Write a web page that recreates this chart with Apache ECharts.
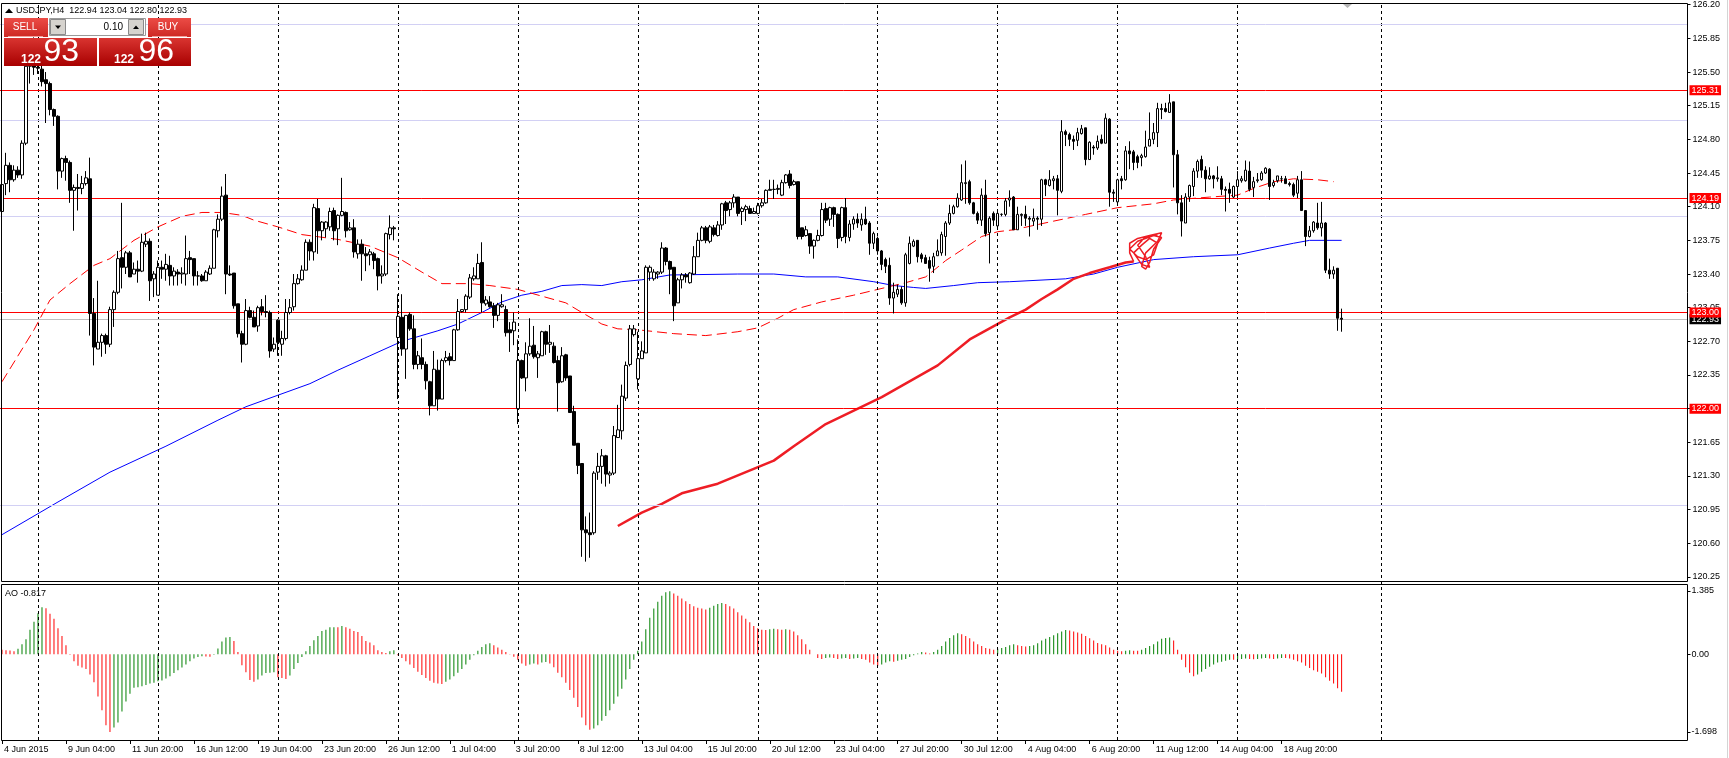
<!DOCTYPE html>
<html>
<head>
<meta charset="utf-8">
<title>USDJPY,H4</title>
<script src="https://cdn.jsdelivr.net/npm/echarts@6.0.0/dist/echarts.min.js"></script>
<style>
html, body { margin: 0; padding: 0; background: #fff; }
#chart { width: 1729px; height: 758px; }
</style>
</head>
<body>
<div id="chart"></div>
<script>
// USDJPY H4 candles, bar 0 = 4 Jun 2015 12:00 ... bar 335 = 21 Aug 2015 08:00
var symbol = 'USDJPY,H4';

// [open, high, low, close]
var ohlc = [
  [124.05,124.35,123.96,124.33],[124.34,124.66,124.22,124.53],[124.53,124.56,124.25,124.38],[124.38,124.53,124.36,124.48],[124.48,124.52,124.40,124.43],
  [124.43,124.79,124.39,124.76],[124.76,125.62,124.74,125.56],[125.56,125.80,125.38,125.60],[125.60,125.86,125.47,125.55],[125.55,125.70,125.48,125.54],
  [125.53,125.60,125.35,125.40],[125.42,125.50,124.97,125.38],[125.38,125.40,125.05,125.11],[125.11,125.12,124.94,125.04],[125.04,125.05,124.28,124.47],
  [124.47,124.61,124.40,124.60],[124.60,124.63,124.37,124.56],[124.56,124.58,124.14,124.27],[124.27,124.33,123.85,124.30],[124.30,124.44,124.06,124.29],
  [124.29,124.42,124.23,124.34],[124.34,124.47,124.32,124.40],[124.39,124.61,122.76,122.99],[122.99,123.15,122.45,122.64],[122.62,123.33,122.62,122.69],
  [122.69,122.78,122.54,122.76],[122.76,122.78,122.57,122.67],[122.67,123.06,122.64,123.03],[123.03,123.23,122.85,123.21],[123.21,123.64,123.19,123.56],
  [123.57,124.14,123.25,123.47],[123.47,123.64,123.40,123.62],[123.62,123.64,123.37,123.37],[123.40,123.52,123.40,123.45],[123.45,123.54,123.31,123.43],
  [123.43,123.82,123.42,123.73],[123.71,123.83,123.68,123.74],[123.74,123.77,123.12,123.33],[123.35,123.43,123.16,123.40],[123.18,123.54,123.18,123.47],
  [123.47,123.54,123.35,123.45],[123.45,123.61,123.33,123.50],[123.49,123.59,123.28,123.38],[123.38,123.47,123.28,123.43],[123.42,123.45,123.28,123.40],
  [123.40,123.47,123.30,123.41],[123.40,123.80,123.28,123.56],[123.57,123.64,123.40,123.55],[123.56,123.56,123.28,123.38],[123.38,123.43,123.28,123.38],
  [123.38,123.40,123.32,123.33],[123.33,123.44,123.33,123.42],[123.40,123.49,123.39,123.46],[123.46,123.87,123.46,123.86],[123.85,124.02,123.78,123.97],
  [123.97,124.31,123.95,124.21],[124.22,124.44,123.19,123.40],[123.40,123.49,123.38,123.39],[123.41,123.41,123.04,123.07],[123.09,123.09,122.74,122.78],
  [122.78,122.81,122.48,122.67],[122.67,123.14,122.66,123.02],[123.02,123.06,122.94,122.95],[122.95,123.02,122.85,122.85],[122.86,123.07,122.80,123.05],
  [123.06,123.14,122.97,123.01],[123.01,123.18,122.95,123.00],[123.00,123.02,122.53,122.60],[122.62,122.74,122.59,122.67],[122.92,122.93,122.55,122.69],
  [122.67,122.81,122.55,122.73],[122.73,123.14,122.71,123.00],[123.00,123.14,122.98,123.05],[123.06,123.40,123.02,123.30],[123.30,123.40,123.29,123.35],
  [123.34,123.49,123.33,123.44],[123.44,123.76,123.44,123.73],[123.73,123.76,123.54,123.64],[123.63,124.13,123.54,124.09],[124.08,124.18,123.61,123.85],
  [123.85,123.95,123.75,123.94],[123.87,123.95,123.78,123.94],[123.89,124.09,123.85,124.05],[124.06,124.09,123.75,123.85],[123.87,124.02,123.70,124.01],
  [124.01,124.40,124.00,124.05],[124.04,124.05,123.78,123.85],[123.86,123.94,123.85,123.88],[123.88,123.97,123.57,123.63],[123.61,123.76,123.56,123.71],
  [123.71,123.76,123.33,123.61],[123.61,123.68,123.43,123.59],[123.60,123.66,123.49,123.63],[123.61,123.63,123.45,123.54],[123.56,123.57,123.23,123.38],
  [123.38,123.49,123.30,123.40],[123.40,123.83,123.38,123.82],[123.81,124.01,123.76,123.88],[123.88,123.90,123.75,123.87],[122.74,123.19,122.10,122.96],
  [122.95,123.19,122.55,122.62],[122.62,122.97,122.31,122.97],[122.98,123.00,122.81,122.83],[122.83,122.97,122.41,122.46],[122.46,122.60,122.41,122.55],
  [122.53,122.73,122.41,122.46],[122.46,122.49,122.20,122.29],[122.28,122.29,121.93,122.03],[122.03,122.60,122.03,122.41],[122.40,122.51,121.98,122.10],
  [122.10,122.52,122.10,122.50],[122.50,122.60,122.48,122.53],[122.54,122.58,122.45,122.50],[122.50,122.83,122.50,122.82],[122.82,123.14,122.81,123.01],
  [123.01,123.03,123.00,123.03],[123.03,123.19,123.00,123.17],[123.16,123.40,123.14,123.36],[123.35,123.47,123.33,123.38],[123.35,123.61,123.35,123.51],
  [123.52,123.73,123.00,123.10],[123.09,123.17,123.07,123.13],[123.11,123.17,123.05,123.06],[123.07,123.10,122.84,122.97],[122.97,123.10,122.91,123.08],
  [123.06,123.19,123.05,123.08],[123.03,123.07,122.75,122.79],[122.82,122.90,122.59,122.79],[122.81,123.00,122.66,122.90],[122.00,122.72,121.84,122.50],
  [122.50,122.51,122.31,122.32],[122.32,122.69,122.18,122.57],[122.57,122.94,122.55,122.65],[122.66,122.86,122.52,122.54],[122.53,122.60,122.32,122.57],
  [122.55,122.81,122.55,122.80],[122.80,122.81,122.56,122.67],[122.67,122.87,122.58,122.69],[122.65,122.69,122.47,122.48],[122.50,122.55,121.97,122.27],
  [122.28,122.64,122.27,122.55],[122.56,122.57,122.29,122.32],[122.34,122.34,121.96,121.96],[121.97,122.03,121.62,121.62],[121.64,121.64,121.32,121.41],
  [121.43,121.43,120.46,120.74],[120.74,120.88,120.41,120.71],[120.71,120.92,120.45,120.69],[120.71,121.35,120.69,121.33],[121.34,121.54,121.26,121.40],
  [121.40,121.58,121.22,121.51],[121.51,121.52,121.19,121.32],[121.31,121.35,121.22,121.33],[121.33,121.82,121.31,121.72],[121.70,122.04,121.70,121.78],
  [121.77,122.25,121.68,122.13],[122.11,122.49,122.08,122.45],[122.46,122.87,122.44,122.83],[122.77,122.87,122.75,122.83],[122.31,122.80,122.20,122.52],
  [122.52,122.70,122.52,122.60],[122.58,123.49,122.58,123.47],[123.42,123.49,123.33,123.47],[123.35,123.45,123.33,123.42],[123.40,123.43,123.35,123.42],
  [123.42,123.73,123.40,123.67],[123.67,123.68,123.49,123.53],[123.53,123.54,123.19,123.45],[123.47,123.47,122.91,123.07],[123.10,123.36,123.10,123.34],
  [123.34,123.41,123.25,123.39],[123.39,123.41,123.31,123.37],[123.31,123.42,123.30,123.41],[123.40,123.69,123.39,123.58],[123.58,123.83,123.58,123.75],
  [123.75,123.90,123.74,123.88],[123.88,123.90,123.72,123.75],[123.74,123.91,123.72,123.89],[123.88,123.91,123.79,123.81],[123.80,123.95,123.79,123.91],
  [123.91,124.14,123.86,124.13],[124.14,124.16,123.92,124.06],[124.07,124.16,124.00,124.14],[124.14,124.23,124.09,124.20],[124.20,124.20,124.00,124.03],
  [124.05,124.10,123.91,124.08],[124.07,124.12,123.95,124.10],[124.08,124.11,124.03,124.03],[124.03,124.09,124.03,124.05],[124.03,124.14,124.02,124.11],
  [124.11,124.18,124.09,124.14],[124.14,124.28,124.13,124.27],[124.27,124.38,124.27,124.28],[124.28,124.38,124.18,124.28],[124.28,124.33,124.23,124.29],
  [124.22,124.38,124.21,124.35],[124.35,124.44,124.34,124.43],[124.44,124.48,124.29,124.32],[124.33,124.38,124.32,124.36],[124.36,124.36,123.76,123.79],
  [123.88,123.88,123.76,123.79],[123.80,123.90,123.79,123.86],[123.82,123.82,123.61,123.69],[123.69,123.76,123.56,123.75],[123.75,123.86,123.74,123.80],
  [123.80,124.14,123.79,124.07],[124.08,124.14,123.93,123.96],[123.97,124.10,123.90,124.09],[124.09,124.10,123.89,124.02],[124.02,124.03,123.67,123.77],
  [123.78,124.10,123.74,124.09],[124.09,124.19,123.72,123.79],[123.78,123.96,123.74,123.92],[123.92,124.00,123.86,123.97],[123.97,124.03,123.88,123.93],
  [123.91,124.03,123.85,123.97],[123.97,124.10,123.91,123.92],[123.93,123.95,123.60,123.72],[123.72,123.84,123.66,123.82],[123.77,123.79,123.60,123.64],
  [123.64,123.65,123.44,123.50],[123.55,123.57,123.41,123.48],[123.49,123.57,123.08,123.15],[123.15,123.31,122.99,123.21],[123.19,123.29,123.16,123.24],
  [123.24,123.27,123.08,123.10],[123.10,123.62,123.06,123.60],[123.51,123.79,123.50,123.72],[123.69,123.76,123.68,123.74],[123.75,123.75,123.52,123.58],
  [123.60,123.62,123.52,123.56],[123.57,123.60,123.51,123.51],[123.54,123.58,123.32,123.46],[123.48,123.62,123.41,123.58],[123.59,123.76,123.59,123.64],
  [123.62,123.84,123.59,123.81],[123.79,123.95,123.59,123.93],[123.93,124.12,123.91,124.03],[124.03,124.12,124.02,124.10],[124.10,124.24,124.09,124.19],
  [124.17,124.54,124.16,124.35],[124.34,124.58,124.13,124.35],[124.36,124.38,124.12,124.14],[124.14,124.15,124.02,124.03],[124.03,124.05,123.92,123.96],
  [123.96,124.29,123.90,124.22],[124.22,124.38,123.79,123.82],[123.83,124.00,123.51,123.98],[124.03,124.05,123.90,123.96],[123.90,124.05,123.88,124.03],
  [124.02,124.03,124.00,124.02],[124.02,124.19,124.00,124.16],[124.17,124.27,124.10,124.19],[124.20,124.21,123.86,123.86],[123.86,124.10,123.86,124.02],
  [124.02,124.03,123.90,124.01],[124.02,124.11,123.90,123.98],[123.98,124.00,123.79,123.97],[123.95,124.08,123.90,123.98],[123.98,124.00,123.86,123.97],
  [123.97,124.39,123.90,124.38],[124.38,124.39,124.21,124.33],[124.32,124.48,124.31,124.38],[124.37,124.42,124.28,124.39],[124.39,124.43,124.01,124.27],
  [124.26,125.00,124.24,124.88],[124.88,124.90,124.73,124.85],[124.85,124.87,124.73,124.80],[124.80,124.84,124.69,124.78],[124.79,124.92,124.73,124.87],
  [124.86,124.95,124.85,124.91],[124.92,124.92,124.53,124.59],[124.59,124.78,124.59,124.77],[124.72,124.74,124.64,124.71],[124.71,124.84,124.69,124.78],
  [124.80,124.85,124.75,124.76],[124.76,125.07,124.76,125.02],[125.01,125.02,124.10,124.25],[124.25,124.28,124.15,124.24],[124.15,124.39,124.13,124.38],
  [124.39,124.42,124.28,124.37],[124.38,124.73,124.37,124.68],[124.68,124.78,124.49,124.65],[124.67,124.69,124.48,124.56],[124.62,124.64,124.50,124.56],
  [124.61,124.65,124.52,124.63],[124.62,124.89,124.61,124.72],[124.73,125.08,124.73,124.80],[124.80,124.97,124.75,124.87],[124.87,125.18,124.72,125.12],
  [125.12,125.17,125.01,125.11],[125.12,125.18,125.08,125.09],[125.08,125.27,125.08,125.18],[125.19,125.19,124.30,124.64],[124.64,124.69,124.02,124.14],
  [124.14,124.22,123.79,123.95],[123.93,124.24,123.93,124.20],[124.20,124.33,124.15,124.32],[124.31,124.50,124.21,124.47],[124.47,124.59,124.40,124.57],
  [124.59,124.63,124.40,124.48],[124.48,124.52,124.25,124.39],[124.39,124.51,124.38,124.42],[124.42,124.43,124.29,124.39],[124.39,124.52,124.36,124.40],
  [124.39,124.42,124.22,124.28],[124.28,124.31,124.05,124.27],[124.28,124.35,124.14,124.24],[124.20,124.32,124.19,124.31],[124.31,124.47,124.19,124.38],
  [124.37,124.42,124.35,124.39],[124.37,124.58,124.36,124.48],[124.47,124.57,124.26,124.28],[124.30,124.41,124.20,124.36],[124.37,124.45,124.35,124.38],
  [124.38,124.47,124.37,124.45],[124.45,124.51,124.44,124.50],[124.49,124.50,124.17,124.31],[124.32,124.38,124.30,124.35],[124.37,124.42,124.35,124.42],
  [124.39,124.42,124.35,124.39],[124.39,124.42,124.34,124.34],[124.34,124.36,124.31,124.33],[124.33,124.35,124.20,124.22],[124.24,124.42,124.19,124.38],
  [124.38,124.47,124.06,124.06],[124.06,124.06,123.69,123.79],[123.79,123.90,123.78,123.85],[123.85,123.95,123.83,123.94],[123.93,124.14,123.86,123.88],
  [123.88,124.15,123.79,123.93],[123.93,123.94,123.41,123.44],[123.44,123.56,123.35,123.40],[123.40,123.48,123.35,123.44],[123.46,123.46,122.81,122.94],
  [122.94,123.04,122.80,122.93]
];

// Awesome Oscillator, one value per candle
var ao = [
  0.10,0.09,0.085,0.07,0.12,0.22,0.33,0.54,0.71,0.90,1.03,1.01,0.89,0.78,0.57,0.40,0.20,-0.01,-0.15,-0.25,
  -0.29,-0.32,-0.44,-0.61,-0.92,-1.22,-1.55,-1.71,-1.60,-1.49,-1.25,-1.03,-0.86,-0.73,-0.72,-0.70,-0.67,-0.64,-0.62,-0.59,
  -0.57,-0.53,-0.48,-0.41,-0.35,-0.29,-0.22,-0.15,-0.09,-0.06,-0.04,-0.045,-0.05,-0.01,0.13,0.28,0.37,0.38,0.29,0.05,
  -0.24,-0.39,-0.56,-0.60,-0.55,-0.46,-0.41,-0.40,-0.39,-0.50,-0.52,-0.54,-0.46,-0.32,-0.19,-0.06,0.07,0.18,0.31,0.40,
  0.51,0.54,0.59,0.595,0.59,0.62,0.59,0.56,0.51,0.49,0.40,0.29,0.26,0.20,0.09,0.05,0.03,0.07,0.09,-0.02,
  -0.08,-0.15,-0.22,-0.30,-0.38,-0.45,-0.52,-0.58,-0.62,-0.64,-0.65,-0.60,-0.55,-0.48,-0.40,-0.32,-0.22,-0.12,-0.02,0.08,
  0.16,0.22,0.24,0.20,0.15,0.10,0.05,0.01,-0.05,-0.12,-0.20,-0.25,-0.22,-0.20,-0.22,-0.18,-0.17,-0.20,-0.28,-0.40,
  -0.50,-0.62,-0.78,-0.95,-1.15,-1.38,-1.55,-1.65,-1.62,-1.55,-1.45,-1.35,-1.22,-1.08,-0.92,-0.75,-0.55,-0.32,-0.12,0.08,
  0.28,0.55,0.80,1.00,1.15,1.28,1.36,1.38,1.33,1.28,1.22,1.16,1.10,1.05,1.02,1.00,0.98,1.02,1.06,1.10,
  1.12,1.10,1.05,1.00,0.92,0.85,0.78,0.70,0.62,0.57,0.54,0.53,0.55,0.56,0.55,0.54,0.55,0.54,0.50,0.42,
  0.33,0.22,0.10,0.00,-0.08,-0.10,-0.08,-0.07,-0.08,-0.10,-0.09,-0.08,-0.10,-0.09,-0.08,-0.10,-0.12,-0.18,-0.22,-0.25,
  -0.22,-0.18,-0.15,-0.16,-0.14,-0.12,-0.10,-0.06,-0.02,0.02,0.05,0.04,0.02,0.05,0.10,0.18,0.28,0.36,0.42,0.46,
  0.44,0.40,0.35,0.28,0.22,0.18,0.14,0.12,0.10,0.12,0.14,0.16,0.20,0.22,0.20,0.18,0.17,0.18,0.20,0.24,
  0.30,0.34,0.38,0.42,0.46,0.50,0.53,0.52,0.50,0.48,0.45,0.40,0.35,0.30,0.25,0.22,0.20,0.15,0.10,0.08,
  0.07,0.08,0.09,0.08,0.08,0.10,0.14,0.18,0.22,0.28,0.34,0.36,0.37,0.30,0.10,-0.12,-0.28,-0.40,-0.48,-0.44,
  -0.38,-0.32,-0.27,-0.22,-0.18,-0.16,-0.14,-0.12,-0.12,-0.11,-0.10,-0.09,-0.10,-0.11,-0.10,-0.09,-0.08,-0.09,-0.10,-0.09,
  -0.08,-0.08,-0.09,-0.12,-0.15,-0.18,-0.25,-0.30,-0.35,-0.38,-0.42,-0.50,-0.58,-0.64,-0.74,-0.817
];

// moving averages: [bar, price]
var maBlue = [[0,120.69],[14,121.03],[27,121.34],[41,121.61],[54,121.88],[61,122.02],[69,122.14],[77,122.26],[84,122.40],[92,122.55],
  [100,122.70],[109,122.81],[114,122.88],[117,122.94],[120,123.00],[125,123.11],[130,123.18],[135,123.22],[140,123.28],[145,123.29],
  [150,123.28],[155,123.32],[160,123.34],[167,123.39],[184,123.40],[193,123.40],[201,123.37],[209,123.37],[218,123.32],[223,123.28],
  [228,123.26],[231,123.25],[238,123.28],[244,123.31],[252,123.32],[266,123.35],[273,123.40],[279,123.47],[288,123.55],[298,123.58],
  [309,123.60],[317,123.67],[323,123.72],[327,123.75],[335,123.75]];
var maRed = [[0,122.28],[8,122.82],[12,123.13],[17,123.30],[23,123.49],[27,123.56],[33,123.75],[39,123.89],[45,124.00],[50,124.04],
  [55,124.04],[60,124.01],[63,123.96],[69,123.89],[75,123.81],[84,123.76],[92,123.69],[99,123.57],[105,123.42],[110,123.30],
  [117,123.30],[122,123.28],[129,123.24],[135,123.17],[141,123.10],[145,123.00],[150,122.88],[154,122.83],[159,122.82],[168,122.78],
  [176,122.76],[184,122.80],[189,122.84],[194,122.94],[198,123.03],[205,123.11],[213,123.18],[219,123.24],[226,123.31],[231,123.37],
  [236,123.54],[240,123.65],[245,123.79],[249,123.84],[253,123.86],[263,123.95],[271,124.02],[279,124.09],[288,124.13],[293,124.17],
  [302,124.20],[309,124.22],[313,124.29],[318,124.36],[323,124.39],[329,124.38],[333,124.36]];
// hand drawn line and the scribble at its end
var drawnLine = [[154,120.78],[160,120.92],[165,121.01],[170,121.12],[179,121.22],[193,121.46],[198,121.61],[206,121.84],[220,122.12],
  [234,122.45],[242,122.72],[252,122.95],[256,123.03],[260,123.14],[264,123.24],[268,123.35],[272,123.41],[277,123.47],[281,123.52],[283,123.53]];
var scribble = [[283,123.53],[282,123.62],[282,123.72],[284,123.77],[287,123.80],[290,123.83],[289,123.74],[286,123.62],[285,123.48],
  [286,123.45],[287,123.52],[288,123.66],[290,123.78],[288,123.80],[284,123.74],[282,123.66],[284,123.58],[286,123.55],[288,123.60],
  [289,123.72],[287,123.77],[285,123.70],[283,123.62],[285,123.50],[287,123.47],[286,123.58],[284,123.70],[286,123.79],[289,123.81]];

var redLevels = [125.31, 124.19, 123.00, 122.00];
var lilacLevels = [126.00, 125.00, 124.00, 121.00];
var bid = 122.93, ask = 122.96, lot = '0.10';

var weekStarts = [9, 39, 69, 99, 129, 159, 189, 219, 249, 279, 309, 345];
var timeLabels = ['4 Jun 2015','9 Jun 04:00','11 Jun 20:00','16 Jun 12:00','19 Jun 04:00','23 Jun 20:00','26 Jun 12:00',
  '1 Jul 04:00','3 Jul 20:00','8 Jul 12:00','13 Jul 04:00','15 Jul 20:00','20 Jul 12:00','23 Jul 04:00','27 Jul 20:00',
  '30 Jul 12:00','4 Aug 04:00','6 Aug 20:00','11 Aug 12:00','14 Aug 04:00','18 Aug 20:00'];
var labelEvery = 16;

// price scale ticks
var priceMin = 120.25, priceStep = 0.35, priceTicks = 17;
var aoMin = -1.698, aoMax = 1.385;

var font = '"Liberation Sans", Arial, sans-serif';
var N = 422;   // bar slots across the window incl. the empty shift zone
var slots = [];
for (var i = 0; i < N; i++) slots.push(i);

function redGrad(top, bottom) {
  return new echarts.graphic.LinearGradient(0, 0, 0, 1, [{offset: 0, color: top}, {offset: 1, color: bottom}]);
}

var last = ohlc[ohlc.length - 1];
var header = symbol + '  ' + last.map(function (v) { return v.toFixed(2); }).join(' ');
var bidTxt = bid.toFixed(2).split('.');
var askTxt = ask.toFixed(2).split('.');

var graphics = [
  // window frames
  {type: 'rect', shape: {x: 1.5, y: 3.5, width: 1686, height: 578}, style: {fill: null, stroke: '#000', lineWidth: 1}},
  {type: 'rect', shape: {x: 1.5, y: 584.5, width: 1686, height: 156}, style: {fill: null, stroke: '#000', lineWidth: 1}},
  {type: 'line', shape: {x1: 1727.5, y1: 0, x2: 1727.5, y2: 758}, style: {stroke: '#d4d4d4', lineWidth: 1}},
  // chart shift marker
  {type: 'polygon', shape: {points: [[1343, 4], [1352, 4], [1347.5, 8]]}, style: {fill: '#b4b4b4'}},
  // header + indicator name
  {type: 'polygon', shape: {points: [[5, 13], [9, 8.5], [13, 13]]}, style: {fill: '#000'}},
  {type: 'text', x: 16, y: 11, style: {text: header, font: '9px ' + font, fill: '#000', verticalAlign: 'middle'}},
  {type: 'text', x: 5, y: 594, style: {text: 'AO ' + ao[ao.length - 1].toFixed(3), font: '9px ' + font, fill: '#000', verticalAlign: 'middle'}},
  // one click trading panel
  {type: 'rect', shape: {x: 4, y: 18, width: 44, height: 19}, style: {fill: redGrad('#ec4c46', '#cd2823')}},
  {type: 'text', x: 25, y: 27.5, style: {text: 'SELL', font: '10px ' + font, fill: '#fff', align: 'center', verticalAlign: 'middle'}},
  {type: 'line', shape: {x1: 8, y1: 36.5, x2: 43, y2: 36.5}, style: {stroke: '#f2a09c', lineWidth: 1}},
  {type: 'rect', shape: {x: 148, y: 18, width: 43, height: 19}, style: {fill: redGrad('#ec4c46', '#cd2823')}},
  {type: 'text', x: 168, y: 27.5, style: {text: 'BUY', font: '10px ' + font, fill: '#fff', align: 'center', verticalAlign: 'middle'}},
  {type: 'line', shape: {x1: 152, y1: 36.5, x2: 187, y2: 36.5}, style: {stroke: '#f2a09c', lineWidth: 1}},
  {type: 'rect', shape: {x: 49.5, y: 18.5, width: 96, height: 17}, style: {fill: '#fff', stroke: '#9a9a9a', lineWidth: 1}},
  {type: 'rect', shape: {x: 50.5, y: 19.5, width: 15, height: 15}, style: {fill: '#d6d3ce', stroke: '#8a8a8a', lineWidth: 1}},
  {type: 'polygon', shape: {points: [[55, 25.5], [61, 25.5], [58, 29]]}, style: {fill: '#000'}},
  {type: 'rect', shape: {x: 128.5, y: 19.5, width: 15, height: 15}, style: {fill: '#d6d3ce', stroke: '#8a8a8a', lineWidth: 1}},
  {type: 'polygon', shape: {points: [[133, 29], [139, 29], [136, 25.5]]}, style: {fill: '#000'}},
  {type: 'text', x: 123, y: 27, style: {text: lot, font: '10px ' + font, fill: '#000', align: 'right', verticalAlign: 'middle'}},
  {type: 'rect', shape: {x: 4, y: 38, width: 93, height: 28}, style: {fill: redGrad('#d93430', '#a80000')}},
  {type: 'rect', shape: {x: 99, y: 38, width: 92, height: 28}, style: {fill: redGrad('#d93430', '#a80000')}},
  {type: 'text', x: 21, y: 59.5, style: {text: bidTxt[0], font: 'bold 12px ' + font, fill: '#fff', verticalAlign: 'middle'}},
  {type: 'text', x: 43.5, y: 52.5, style: {text: bidTxt[1], font: '32px ' + font, fill: '#fff', verticalAlign: 'middle'}},
  {type: 'text', x: 114, y: 59.5, style: {text: askTxt[0], font: 'bold 12px ' + font, fill: '#fff', verticalAlign: 'middle'}},
  {type: 'text', x: 138.5, y: 52.5, style: {text: askTxt[1], font: '32px ' + font, fill: '#fff', verticalAlign: 'middle'}}
];
graphics.forEach(function (g) { g.z = 100; g.silent = true; });

var tagLabel = function (bg) {
  return {
    show: true, position: 'end', distance: 2,
    formatter: function (p) { return p.value.toFixed(2); },
    backgroundColor: bg, color: '#fff', padding: [1, 2, 0, 2],
    fontSize: 9, fontFamily: font
  };
};

var levelLines = lilacLevels.map(function (v) {
  return {yAxis: v, lineStyle: {color: '#d2d0f4'}, label: {show: false}};
}).concat(redLevels.map(function (v) {
  return {yAxis: v, lineStyle: {color: '#ff0000'}, label: tagLabel('#ff0000')};
}));

var option = {
  animation: false,
  backgroundColor: '#ffffff',
  textStyle: {fontFamily: font},
  graphic: graphics,
  grid: [
    {left: -0.5, top: 4.7, width: N * 4, height: 572.3},
    {left: -0.5, top: 591, width: N * 4, height: 141},
    {left: -0.5, top: 3, width: N * 4, height: 737}
  ],
  xAxis: [
    {type: 'category', gridIndex: 0, data: slots, show: false},
    {type: 'category', gridIndex: 1, data: slots, show: false},
    {
      type: 'category', gridIndex: 2, data: slots,
      axisLine: {show: false},
      axisTick: {
        show: true, alignWithLabel: true, length: 4, lineStyle: {color: '#000'},
        interval: function (idx) { return idx % labelEvery === 0 && idx / labelEvery < timeLabels.length; }
      },
      axisLabel: {
        show: true, align: 'left', margin: 5, padding: [0, 0, 0, 2],
        fontSize: 9, color: '#000', fontFamily: font,
        interval: function (idx) { return idx % labelEvery === 0 && idx / labelEvery < timeLabels.length; },
        formatter: function (v, idx) { return timeLabels[idx / labelEvery] || ''; }
      },
      splitLine: {show: false}
    }
  ],
  yAxis: [
    {type: 'value', gridIndex: 0, min: priceMin, max: priceMin + priceStep * priceTicks, show: false},
    {
      type: 'value', gridIndex: 0, position: 'right', min: 0, max: priceTicks, interval: 1,
      axisLine: {show: false}, splitLine: {show: false},
      axisTick: {show: true, length: 3, lineStyle: {color: '#000'}},
      axisLabel: {
        margin: 5, fontSize: 9, color: '#000', fontFamily: font, showMinLabel: true, showMaxLabel: true,
        formatter: function (v) { return (priceMin + v * priceStep).toFixed(2); }
      }
    },
    {
      type: 'value', gridIndex: 1, position: 'right', min: aoMin, max: aoMax, interval: -aoMin,
      axisLine: {show: false}, splitLine: {show: false},
      axisTick: {show: true, length: 3, lineStyle: {color: '#000'}},
      axisLabel: {
        margin: 4, fontSize: 9, color: '#000', fontFamily: font, showMinLabel: true, showMaxLabel: true,
        formatter: function (v) { return Math.abs(v) < 1e-9 ? '0.00' : v.toFixed(3); }
      }
    },
    {type: 'value', gridIndex: 2, min: 0, max: 1, show: false}
  ],
  series: [
    {
      name: 'separators', type: 'line', xAxisIndex: 2, yAxisIndex: 3, data: [], z: 1,
      markLine: {
        silent: true, symbol: ['none', 'none'], label: {show: false},
        lineStyle: {color: '#000', type: [3, 3], width: 1},
        data: weekStarts.map(function (i) { return {xAxis: i}; })
      }
    },
    {
      name: 'bid', type: 'line', xAxisIndex: 0, yAxisIndex: 0, data: [], z: 2,
      markLine: {
        silent: true, symbol: ['none', 'none'],
        lineStyle: {type: 'solid', width: 1},
        data: [{yAxis: bid, lineStyle: {color: '#c0c0c0'}, label: tagLabel('#000')}]
      }
    },
    {
      name: 'levels', type: 'line', xAxisIndex: 0, yAxisIndex: 0, data: [], z: 3,
      markLine: {silent: true, symbol: ['none', 'none'], lineStyle: {type: 'solid', width: 1}, data: levelLines}
    },
    {
      name: 'MA slow', type: 'line', xAxisIndex: 0, yAxisIndex: 0, data: maBlue, z: 4,
      symbol: 'none', lineStyle: {color: '#0000ff', width: 1}
    },
    {
      name: 'MA fast', type: 'line', xAxisIndex: 0, yAxisIndex: 0, data: maRed, z: 4,
      symbol: 'none', lineStyle: {color: '#ff0000', width: 1, type: [10, 5]}
    },
    {
      name: 'drawing', type: 'line', xAxisIndex: 0, yAxisIndex: 0, data: drawnLine, z: 4,
      symbol: 'none', lineStyle: {color: '#ee1d25', width: 2.5}
    },
    {
      name: 'scribble', type: 'line', xAxisIndex: 0, yAxisIndex: 0, data: scribble, z: 4,
      symbol: 'none', lineStyle: {color: '#ee1d25', width: 1.5}
    },
    {
      name: symbol, type: 'candlestick', xAxisIndex: 0, yAxisIndex: 0, z: 5, barWidth: 3,
      data: ohlc.map(function (b) { return [b[0], b[3], b[2], b[1]]; }),
      itemStyle: {color: '#ffffff', color0: '#000000', borderColor: '#000000', borderColor0: '#000000', borderWidth: 1}
    },
    {
      name: 'AO', type: 'bar', xAxisIndex: 1, yAxisIndex: 2, data: ao, barWidth: 1,
      itemStyle: {
        color: function (p) {
          var i = p.dataIndex;
          return (i > 0 && ao[i] > ao[i - 1]) ? '#008000' : '#ff0000';
        }
      }
    }
  ]
};

var chart = echarts.init(document.getElementById('chart'));
chart.setOption(option);
</script>
</body>
</html>
